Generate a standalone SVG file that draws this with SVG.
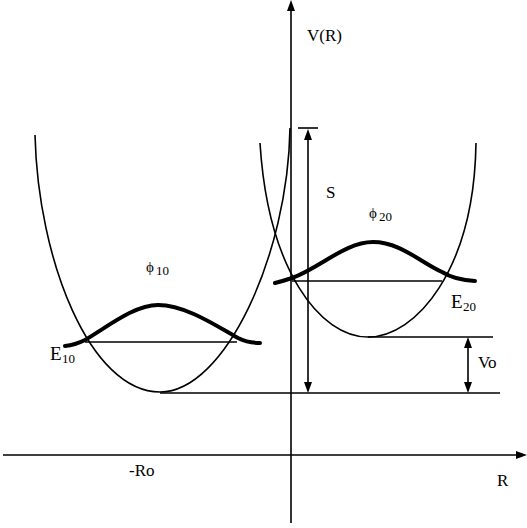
<svg xmlns="http://www.w3.org/2000/svg" width="527" height="528" viewBox="0 0 527 528">
<style>
.ln{fill:none;stroke:#000;stroke-width:1.6}
.wf{fill:none;stroke:#000;stroke-width:4;stroke-linecap:round}
.hd{fill:#000}
text{font-family:"Liberation Serif","DejaVu Serif",serif;fill:#000}
.lb{font-size:16px}
.sub{font-size:13px}
.big{font-size:19px}
</style>
<rect width="527" height="528" fill="#fff"/>
<g id="axes">
<line class="ln" x1="291" y1="523" x2="291" y2="8"/>
<polygon class="hd" points="291,0 287,11 295,11"/>
<line class="ln" x1="3" y1="455" x2="518" y2="455"/>
<polygon class="hd" points="527,455 516,451 516,459"/>
<text class="lb" x="307" y="41" style="font-size:17px">V(R)</text>
<text class="lb" x="129" y="476" style="font-size:17px">-Ro</text>
<text class="lb" x="497" y="486" style="font-size:17px">R</text>
</g>
<g id="well1">
<path class="ln" d="M35,135 C38,260 90,392 160,392 C225,392 288,255 290,128"/>
</g>
<g id="well2">
<path class="ln" d="M260,143 C268,270 320,337 368,337 C416,337 474,270 476,143"/>
</g>
<g id="level1">
<line class="ln" x1="85" y1="342" x2="237" y2="342"/>
<text class="big" x="50" y="360">E</text><text class="sub" x="62" y="363">10</text>
</g>
<g id="level2">
<line class="ln" x1="292" y1="281" x2="442" y2="281"/>
<text class="big" x="451" y="308">E</text><text class="sub" x="463" y="311">20</text>
</g>
<g id="wave1">
<path class="wf" d="M65,346 Q75,345 85,340 C110,325 135,305 158,305 C185,305 215,325 238,338 Q248,343 260,343"/>
<text x="146" y="272" style="font-size:15px">ϕ</text><text class="sub" x="156" y="275">10</text>
</g>
<g id="wave2">
<path class="wf" d="M275,283 Q283,281 292,278 C320,268 345,242 373,242 C400,242 420,262 442,272 Q455,280 475,281"/>
<text x="369" y="218" style="font-size:15px">ϕ</text><text class="sub" x="379" y="221">20</text>
</g>
<g id="connectors">
<line class="ln" x1="368" y1="337" x2="493" y2="337"/>
<line class="ln" x1="160" y1="393" x2="500" y2="393"/>
<line class="ln" x1="298" y1="128" x2="318" y2="128"/>
<line class="ln" x1="308" y1="138" x2="308" y2="384"/>
<polygon class="hd" points="308,129 304,140 312,140"/>
<polygon class="hd" points="308,393 304,382 312,382"/>
<line class="ln" x1="468" y1="346" x2="468" y2="384"/>
<polygon class="hd" points="468,337 464,348 472,348"/>
<polygon class="hd" points="468,393 464,382 472,382"/>
</g>
<g id="labels">
<text class="lb" x="326" y="198" style="font-size:17px">S</text>
<text class="lb" x="478" y="368" style="font-size:17px">Vo</text>
</g>
</svg>
